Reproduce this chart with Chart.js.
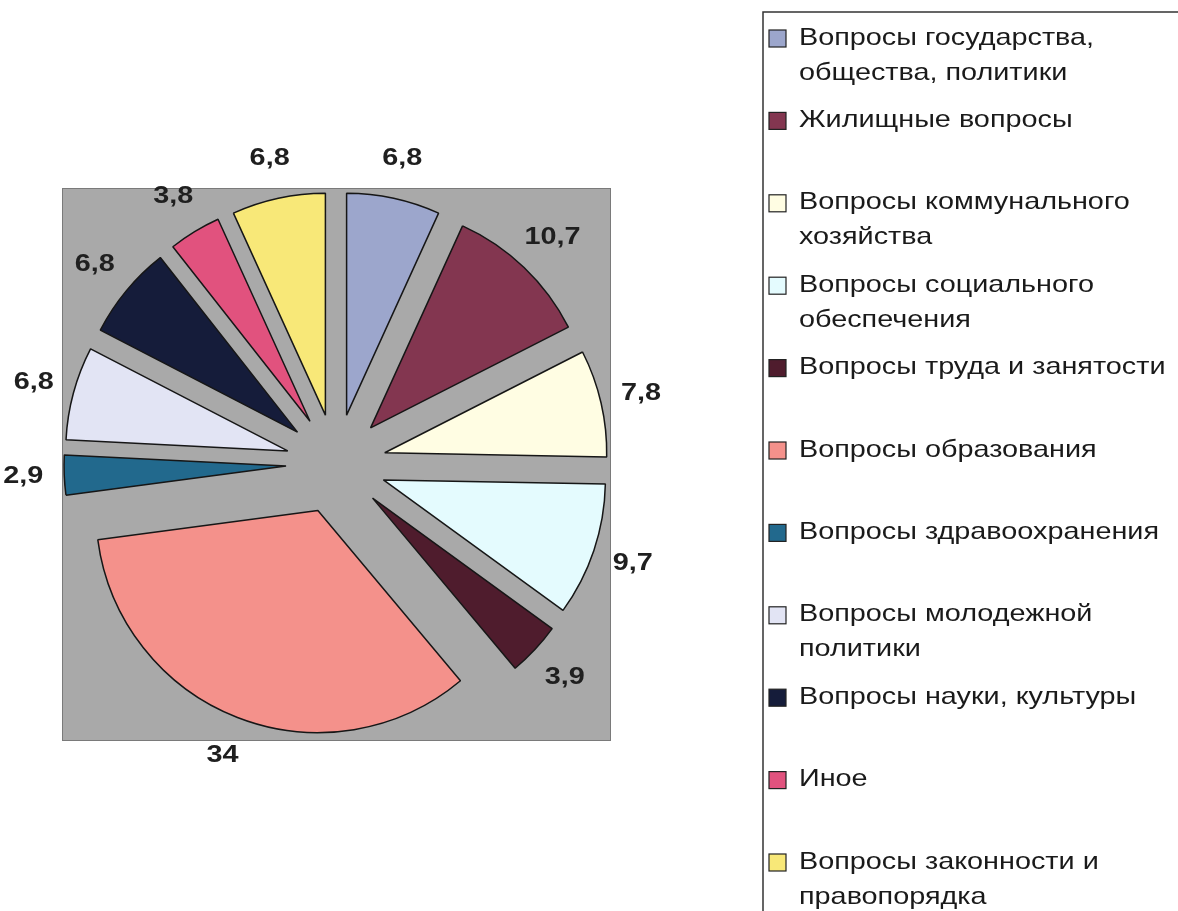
<!DOCTYPE html>
<html>
<head>
<meta charset="utf-8">
<script src="https://cdn.jsdelivr.net/npm/chart.js@4/dist/chart.umd.min.js"></script>
<style>
  html, body { margin: 0; padding: 0; background: #fff; }
  #wrap { width: 1178px; height: 911px; }
</style>
</head>
<body>
<div id="wrap"><canvas id="chart" width="1178" height="911"></canvas></div>
<script>
// categories (legend text, already split in lines like the original)
const categories = [
  ['Вопросы государства,', 'общества, политики'],
  ['Жилищные вопросы'],
  ['Вопросы коммунального', 'хозяйства'],
  ['Вопросы социального', 'обеспечения'],
  ['Вопросы труда и занятости'],
  ['Вопросы образования'],
  ['Вопросы здравоохранения'],
  ['Вопросы молодежной', 'политики'],
  ['Вопросы науки, культуры'],
  ['Иное'],
  ['Вопросы законности и', 'правопорядка']
];
const values = [6.8, 10.7, 7.8, 9.7, 3.9, 34, 2.9, 6.8, 6.8, 3.8, 6.8];
const colors = [
  '#9ca6cc', '#833650', '#fffde3', '#e4fbfe', '#4f1c2d', '#f4918b',
  '#22698d', '#e2e4f4', '#151c3a', '#e1527e', '#f8e878'
];

const EXPLODE = 50;      // how far each slice is pulled out
const SX = 1.2;          // the source picture is stretched horizontally
const FONT = '"Liberation Sans", Arial, sans-serif';

const fmt = v => String(v).replace('.', ',');

// background + grey plot area
const plotArea = {
  id: 'plotArea',
  beforeDraw(chart) {
    const { ctx, chartArea: a } = chart;
    ctx.save();
    ctx.fillStyle = '#fff';
    ctx.fillRect(0, 0, chart.width, chart.height);
    ctx.fillStyle = '#a9a9a9';
    ctx.fillRect(a.left, a.top, a.right - a.left, a.bottom - a.top);
    ctx.strokeStyle = '#7a7a7a';
    ctx.lineWidth = 1;
    ctx.strokeRect(a.left + 0.5, a.top + 0.5, a.right - a.left, a.bottom - a.top);
    ctx.restore();
  }
};

// draw every slice pulled out along its middle angle
const explode = {
  id: 'explode',
  beforeDatasetDraw(chart, args) {
    const ctx = chart.ctx;
    args.meta.data.forEach(arc => {
      const mid = (arc.startAngle + arc.endAngle) / 2;
      ctx.save();
      ctx.translate(Math.cos(mid) * EXPLODE, Math.sin(mid) * EXPLODE);
      arc.draw(ctx);
      ctx.restore();
    });
    return false;
  }
};

// value labels outside the slices
const valueLabels = {
  id: 'valueLabels',
  afterDatasetsDraw(chart) {
    const ctx = chart.ctx;
    const meta = chart.getDatasetMeta(0);
    ctx.save();
    ctx.font = 'bold 24px ' + FONT;
    ctx.fillStyle = '#1f1f1f';
    ctx.textAlign = 'center';
    ctx.textBaseline = 'middle';
    meta.data.forEach((arc, i) => {
      const mid = (arc.startAngle + arc.endAngle) / 2;
      const r = arc.outerRadius + EXPLODE + 41;
      const x = arc.x + Math.cos(mid) * r;
      const y = arc.y + Math.sin(mid) * r;
      ctx.save();
      ctx.scale(SX, 1);
      ctx.fillText(fmt(values[i]), x / SX, y);
      ctx.restore();
    });
    ctx.restore();
  }
};

// boxed legend on the right
const boxLegend = {
  id: 'boxLegend',
  afterDraw(chart) {
    const ctx = chart.ctx;
    const left = 763, top = 12;
    ctx.save();
    ctx.strokeStyle = '#333';
    ctx.lineWidth = 1.5;
    ctx.strokeRect(left, top, 600, 1000);
    ctx.font = '24px ' + FONT;
    ctx.textBaseline = 'middle';
    categories.forEach((lines, i) => {
      const y = 38 + i * 82.4;
      ctx.fillStyle = colors[i];
      ctx.fillRect(769, y - 8, 17, 17);
      ctx.strokeStyle = '#222';
      ctx.lineWidth = 1.2;
      ctx.strokeRect(769, y - 8, 17, 17);
      ctx.fillStyle = '#1a1a1a';
      lines.forEach((t, j) => {
        ctx.save();
        ctx.scale(SX, 1);
        ctx.fillText(t, 799 / SX, y + j * 35);
        ctx.restore();
      });
    });
    ctx.restore();
  }
};

new Chart(document.getElementById('chart'), {
  type: 'pie',
  data: {
    labels: categories,
    datasets: [{
      data: values,
      backgroundColor: colors,
      borderColor: '#161616',
      borderWidth: 1.5,
      radius: 222
    }]
  },
  options: {
    responsive: false,
    devicePixelRatio: 1,
    animation: false,
    layout: { padding: { left: 62, top: 188, right: 568, bottom: 171 } },
    plugins: {
      legend: { display: false },
      tooltip: { enabled: false }
    }
  },
  plugins: [plotArea, explode, valueLabels, boxLegend]
});
</script>
</body>
</html>
